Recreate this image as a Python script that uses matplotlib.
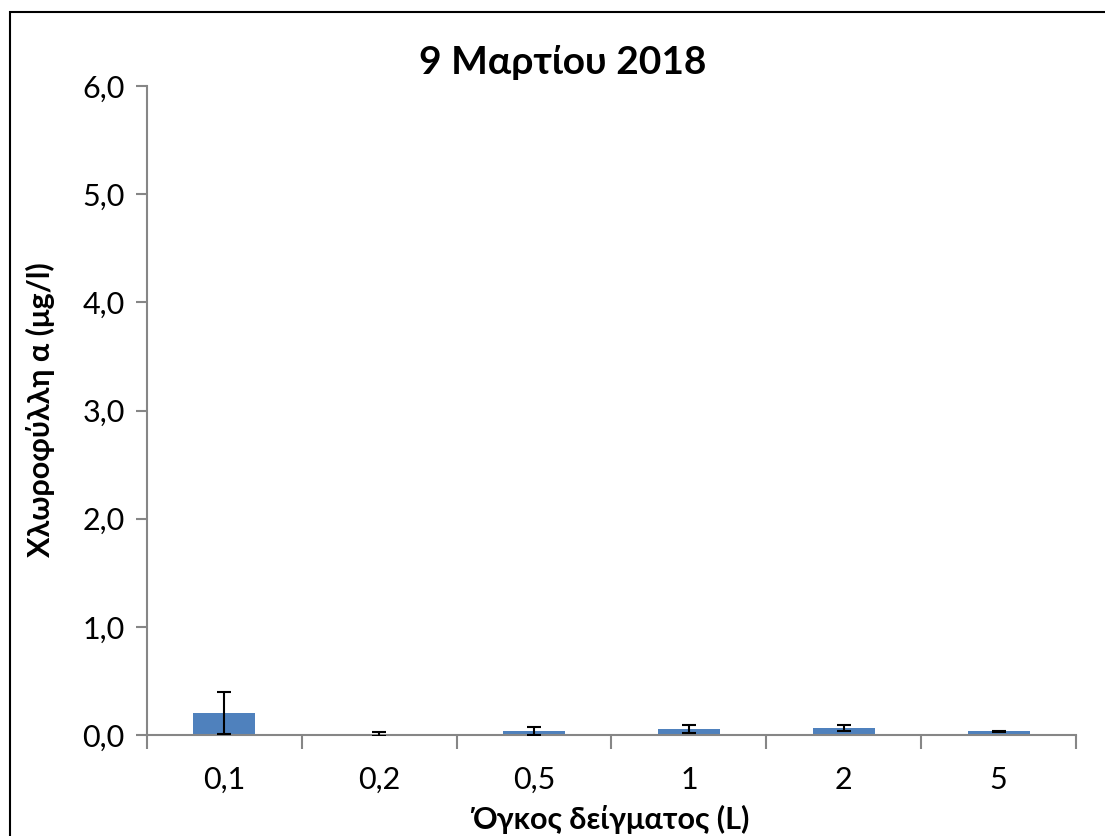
import matplotlib.pyplot as plt
import matplotlib.patches as mpatches
import numpy as np

# Sample volume (L) vs chlorophyll a
volumes = ['0,1', '0,2', '0,5', '1', '2', '5']
chl_mean = [0.20, 0.012, 0.035, 0.055, 0.067, 0.035]
chl_err = [0.195, 0.02, 0.037, 0.035, 0.028, 0.003]
y_ticks = [0, 1, 2, 3, 4, 5, 6]

plt.rcParams['font.family'] = ['Lato', 'DejaVu Sans']

W, H = 1105, 836
fig = plt.figure(figsize=(W / 100, H / 100), dpi=100)
ax = fig.add_axes([147 / W, 1 - 735 / H, (1076 - 147) / W, (735 - 86) / H])

x = np.arange(len(volumes))
ax.bar(x, chl_mean, width=0.4, color='#4f81bd', zorder=2)
ax.errorbar(x, chl_mean, yerr=chl_err, fmt='none', ecolor='black',
            elinewidth=1.5, capsize=5, capthick=1.5, zorder=3)

ax.set_xlim(-0.5, len(volumes) - 0.5)
ax.set_ylim(0, 6)
ax.set_yticks(y_ticks)
ax.set_yticklabels([f'{v:.1f}'.replace('.', ',') for v in y_ticks], fontsize=22)
ax.set_xticks(x)
ax.set_xticklabels(volumes, fontsize=22)
ax.set_xticks(np.arange(-0.5, len(volumes)), minor=True)

gray = '#868686'
for side in ['top', 'right']:
    ax.spines[side].set_visible(False)
for side in ['left', 'bottom']:
    ax.spines[side].set_color(gray)
    ax.spines[side].set_linewidth(1.5)
ax.tick_params(axis='y', length=8, width=1.5, color=gray, pad=8)
ax.tick_params(axis='x', which='major', length=0, pad=22)
ax.tick_params(axis='x', which='minor', length=10, width=1.5, color=gray)

fig.text(563 / W, 1 - 62 / H, '9 Μαρτίου 2018', fontsize=28, fontweight='bold',
         ha='center', va='center')
fig.text(611 / W, 1 - 819 / H, 'Όγκος δείγματος (L)', fontsize=22,
         fontweight='bold', ha='center', va='center')
fig.text(40 / W, 1 - 410 / H, 'Χλωροφύλλη α (μg/l)', fontsize=22,
         fontweight='bold', ha='center', va='center', rotation=90)

# outer chart border
fig.patches.append(mpatches.Rectangle((10 / W, -0.01), 1.0, 1 - 12 / H + 0.01,
                                      transform=fig.transFigure, fill=False,
                                      edgecolor='black', linewidth=1.5))

fig.savefig('out.png', dpi=100)
